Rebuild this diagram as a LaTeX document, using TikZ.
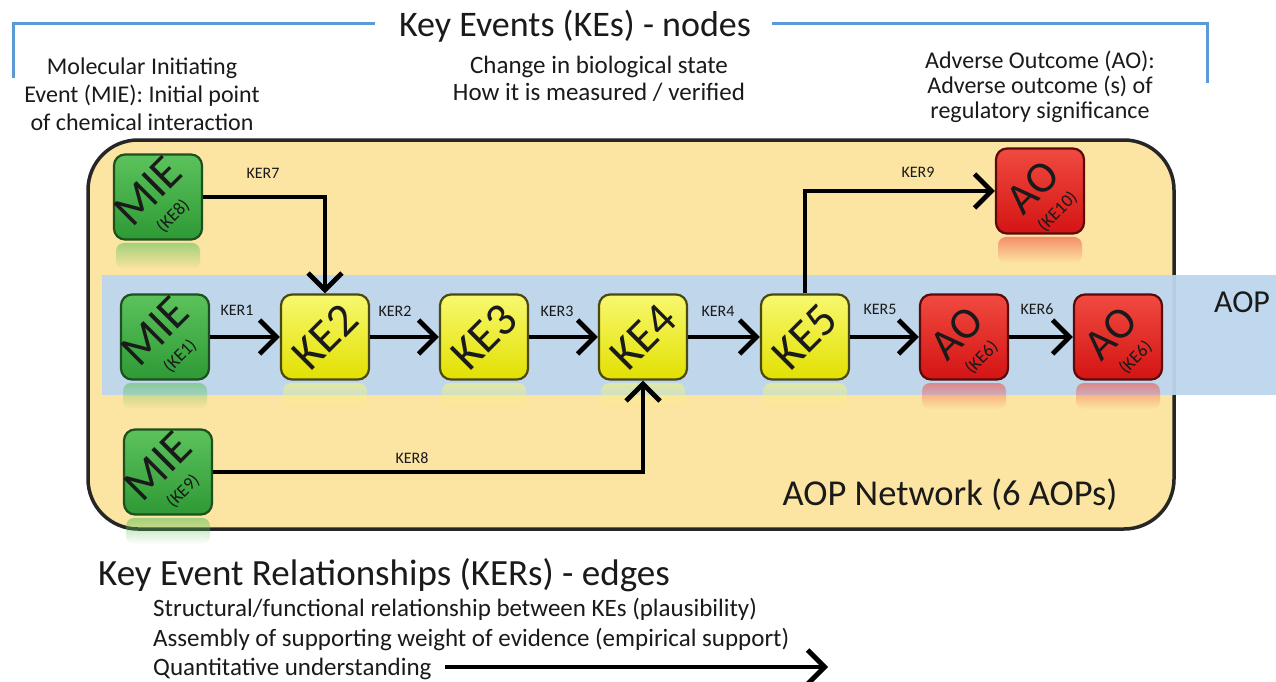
\documentclass[tikz,border=0pt]{standalone}
\usepackage{fontspec}
\setmainfont{Carlito}
\usetikzlibrary{arrows.meta,fadings}
\definecolor{boxfill}{HTML}{FCE4A2}
\definecolor{boxdraw}{HTML}{262626}
\definecolor{bandblue}{HTML}{BDD6EE}
\definecolor{brk}{HTML}{5B9BD5}
\definecolor{txt}{HTML}{1A1A1A}
\definecolor{mietop}{HTML}{5CC25C}
\definecolor{miebot}{HTML}{2E9A35}
\definecolor{miedraw}{HTML}{1E4F1E}
\definecolor{ketop}{HTML}{F8F870}
\definecolor{kebot}{HTML}{E2E000}
\definecolor{kedraw}{HTML}{4A4A10}
\definecolor{aotop}{HTML}{F04A40}
\definecolor{aobot}{HTML}{D41414}
\definecolor{aodraw}{HTML}{5A0A0A}
\tikzfading[name=reflfade, top color=transparent!45, bottom color=transparent!100]
\tikzset{
  kebase/.style={rounded corners=11pt, minimum width=88pt, minimum height=85pt, line width=2.2pt, inner sep=0pt},
  miebox/.style={kebase, draw=miedraw, top color=mietop, bottom color=miebot},
  kebox/.style={kebase, draw=kedraw, top color=ketop, bottom color=kebot},
  aobox/.style={kebase, draw=aodraw, top color=aotop, bottom color=aobot},
  bigtxt/.style={rotate=45, text=txt, font=\fontsize{47}{47}\selectfont, inner sep=0pt},
  twotxt/.style={rotate=45, text=txt, align=center, font=\fontsize{18}{26}\selectfont, inner sep=0pt},
  ker/.style={line width=4.8pt, draw=black, -{Straight Barb[length=17pt,width=34pt]}},
  kerlbl/.style={text=txt, font=\fontsize{16}{16}\selectfont, inner sep=0pt},
  desc/.style={text=txt, font=\fontsize{24}{27}\selectfont, align=center, inner sep=0pt},
  legend/.style={text=txt, font=\fontsize{25}{25}\selectfont, inner sep=0pt, anchor=base west},
  head/.style={text=txt, font=\fontsize{36}{36}\selectfont, inner sep=0pt},
  bracket/.style={draw=brk, line width=3pt},
}
\newcommand{\bigword}[2]{{\fontsize{#1}{#1}\selectfont #2}}
\begin{document}
\begin{tikzpicture}[x=1pt,y=1pt]
\useasboundingbox (0,0) rectangle (1276,-682);
\fill[white] (0,0) rectangle (1276,-682);

% top bracket and header
\draw[bracket] (13,-78) -- (13,-24) -- (375,-24);
\draw[bracket] (772,-24) -- (1207,-24) -- (1207,-83);
\node[head, anchor=base] (kehead) at (575,-37) {Key Events (KEs) - nodes};
\node[desc, anchor=north, font=\fontsize{24}{28}\selectfont] (miedesc) at (142,-58) {Molecular Initiating\\Event (MIE): Initial point\\of chemical interaction};
\node[desc, anchor=north, font=\fontsize{25}{27}\selectfont] (kedesc) at (599,-56) {Change in biological state\\How it is measured / verified};
\node[desc, anchor=north, font=\fontsize{24}{25}\selectfont] (aodesc) at (1040,-51) {Adverse Outcome (AO):\\Adverse outcome (s) of\\regulatory significance};

% network box
\draw[fill=boxfill, draw=boxdraw, line width=3.5pt, rounded corners=50pt] (88,-140) rectangle (1174,-529);
% AOP band
\fill[bandblue, opacity=0.95] (102,-275) rectangle (1276,-395);
\node[text=txt, font=\fontsize{32}{32}\selectfont, anchor=base, inner sep=0pt] (aoplbl) at (1242,-312) {AOP};
\node[text=txt, font=\fontsize{36.5}{36.5}\selectfont, anchor=base, inner sep=0pt] (netlbl) at (950,-505) {AOP Network (6 AOPs)};

% reflections
\foreach \x/\y/\c in {158/197/mietop,165/337/mietop,168/472/mietop,325/337/ketop,484/337/ketop,643/337/ketop,805/337/ketop,964/337/aotop,1118/337/aotop,1040/191/aotop}{
  \fill[\c, path fading=reflfade, rounded corners=8pt] (\x-42,-\y-46) rectangle (\x+42,-\y-72);
}

% key event nodes
\node[miebox] (mie8) at (158,-197) {};
\node[miebox] (mie1) at (165,-337) {};
\node[miebox] (mie9) at (168,-472) {};
\node[kebox] (ke2) at (325,-337) {};
\node[kebox] (ke3) at (484,-337) {};
\node[kebox] (ke4) at (643,-337) {};
\node[kebox] (ke5) at (805,-337) {};
\node[aobox] (ao6a) at (964,-337) {};
\node[aobox] (ao6b) at (1118,-337) {};
\node[aobox] (ao10) at (1040,-191) {};

% node texts
\node[twotxt] (t8) at ([shift={(0,-4)}]mie8.center) {\bigword{47}{MIE}\\(KE8)};
\node[twotxt] (t1) at ([shift={(0,-4)}]mie1.center) {\bigword{47}{MIE}\\(KE1)};
\node[twotxt] (t9) at ([shift={(0,-4)}]mie9.center) {\bigword{47}{MIE}\\(KE9)};
\node[bigtxt] (t2) at (ke2.center) {KE2};
\node[bigtxt] (t3) at (ke3.center) {KE3};
\node[bigtxt] (t4) at (ke4.center) {KE4};
\node[bigtxt] (t5) at (ke5.center) {KE5};
\node[twotxt] (ta) at ([shift={(3,-6)}]ao6a.center) {\bigword{44}{AO}\\(KE6)};
\node[twotxt] (tb) at ([shift={(3,-6)}]ao6b.center) {\bigword{44}{AO}\\(KE6)};
\node[twotxt] (tc) at ([shift={(3,-6)}]ao10.center) {\bigword{44}{AO}\\(KE10)};

% relationships
\draw[ker] (mie1.east) -- (ke2.west);
\draw[ker] (ke2.east) -- (ke3.west);
\draw[ker] (ke3.east) -- (ke4.west);
\draw[ker] (ke4.east) -- (ke5.west);
\draw[ker] (ke5.east) -- (ao6a.west);
\draw[ker] (ao6a.east) -- (ao6b.west);
\draw[ker] (mie8.east) -| (ke2.north);
\draw[ker] (mie9.east) -| (ke4.south);
\draw[ker] (ke5.north) |- (ao10.west);

\node[kerlbl] (l1) at (237,-310) {KER1};
\node[kerlbl] (l2) at (395,-311) {KER2};
\node[kerlbl] (l3) at (557,-311) {KER3};
\node[kerlbl] (l4) at (718,-311) {KER4};
\node[kerlbl] (l5) at (880,-309) {KER5};
\node[kerlbl] (l6) at (1037,-309) {KER6};
\node[kerlbl] (l7) at (263,-173) {KER7};
\node[kerlbl] (l8) at (412,-458) {KER8};
\node[kerlbl] (l9) at (918,-172) {KER9};

% bottom legend
\node[head, anchor=base west, font=\fontsize{37}{37}\selectfont] (kerhead) at (98,-585) {Key Event Relationships (KERs) - edges};
\node[legend] (k1) at (153,-616) {Structural/functional relationship between KEs (plausibility)};
\node[legend] (k2) at (153,-646) {Assembly of supporting weight of evidence (empirical support)};
\node[legend] (k3) at (153,-675) {Quantitative understanding};
\coordinate (qa) at (445,-667);
\coordinate (qb) at (828,-667);
\draw[ker] (qa) -- (qb);
\end{tikzpicture}
\end{document}
